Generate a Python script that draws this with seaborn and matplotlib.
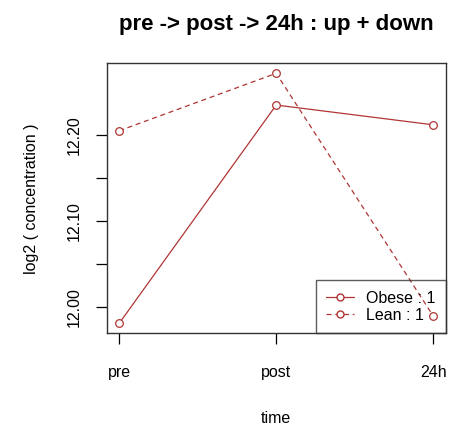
import matplotlib
matplotlib.use("Agg")
import matplotlib.pyplot as plt
import seaborn as sns
import pandas as pd

times = ["pre", "post", "24h"]
obese = [11.9814, 12.2345, 12.2116]
lean = [12.2047, 12.2713, 11.9900]
groups = ["Obese : 1", "Lean : 1"]
yticks = [12.00, 12.05, 12.10, 12.15, 12.20]
yticklabels = ["12.00", "", "12.10", "", "12.20"]

df = pd.DataFrame({
    "time": times * 2,
    "value": obese + lean,
    "group": [groups[0]] * 3 + [groups[1]] * 3,
})

sns.set_style("white")
plt.rcParams["font.family"] = ["Liberation Sans", "DejaVu Sans"]
plt.rcParams["text.color"] = "black"
plt.rcParams["axes.labelcolor"] = "black"

color = "#B03535"
fs = 11.5
fig = plt.figure(figsize=(4.49, 4.29), dpi=100)
ax = fig.add_axes([0.2376, 0.2231, 0.7551, 0.6293])

sns.lineplot(data=df, x="time", y="value", hue="group", style="group",
             palette=[color, color], dashes=[(None, None), (4, 3)],
             markers=["o", "o"], markersize=5.5, markerfacecolor="white",
             markeredgecolor=color, markeredgewidth=0.9, linewidth=0.9,
             sort=False, ax=ax, legend=False)

ax.set_xlim(-0.08, 2.08)
ax.set_ylim(11.9698, 12.2829)
ax.set_xticks([0, 1, 2])
ax.set_xticklabels(times)
ax.set_yticks(yticks)
ax.set_yticklabels(yticklabels, rotation=90, va="center")
ax.tick_params(axis="both", direction="out", length=8, width=0.9,
               colors="black", labelsize=fs, bottom=True, left=True)
ax.tick_params(axis="x", pad=15)
ax.tick_params(axis="y", pad=10)
for s in ax.spines.values():
    s.set_color("#333333")
    s.set_linewidth(1.0)

ax.set_xlabel("time", fontsize=fs, labelpad=22, color="black")
ax.set_ylabel("log2 ( concentration )", fontsize=fs, labelpad=20, color="black")
ax.set_title("pre -> post -> 24h : up + down", fontsize=16, fontweight="bold",
             pad=24, color="black")

from matplotlib.lines import Line2D
handles = [
    Line2D([], [], color=color, lw=0.9, ls="-", marker="o", markersize=5,
           markerfacecolor="white", markeredgecolor=color),
    Line2D([], [], color=color, lw=0.9, ls=(0, (4, 3)), marker="o", markersize=5,
           markerfacecolor="white", markeredgecolor=color),
]
leg = ax.legend(handles, groups, loc="lower right", borderaxespad=0,
                fontsize=fs, frameon=True, fancybox=False, handlelength=1.75,
                numpoints=1, labelspacing=0.15, borderpad=0.65, handletextpad=0.75)
leg.get_frame().set_edgecolor("#333333")
leg.get_frame().set_facecolor("none")
leg.get_frame().set_linewidth(1.0)
for t in leg.get_texts():
    t.set_color("black")

fig.savefig("out.png", dpi=100)
